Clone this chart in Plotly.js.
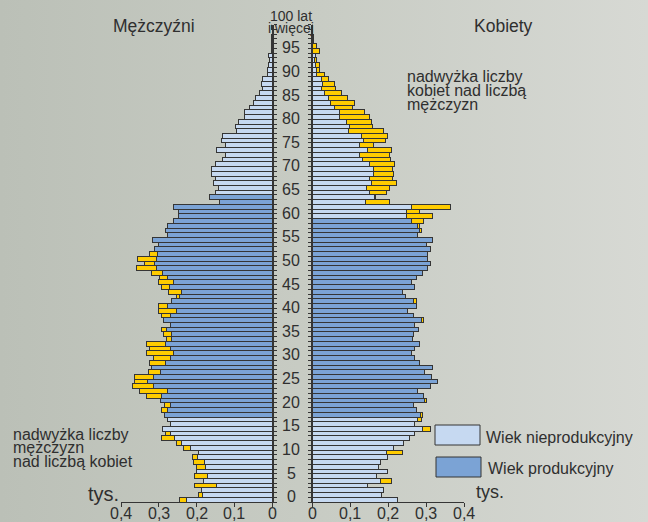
<!DOCTYPE html>
<html><head><meta charset="utf-8">
<script src="https://cdn.plot.ly/plotly-3.0.1.min.js"></script>
<style>
html,body{margin:0;padding:0;background:#c9cdc5;}
#chart{width:648px;height:522px;background:linear-gradient(to right,#bbc0b7 0%,#c8ccc4 50%,#d7d9d4 100%);}
</style></head><body><div id="chart"></div>
<script>
// ---- DATA (thousands of people, by single year of age) ----
const ages = [0,1,2,3,4,5,6,7,8,9,10,11,12,13,14,15,16,17,18,19,20,21,22,23,24,25,26,27,28,29,30,
  31,32,33,34,35,36,37,38,39,40,41,42,43,44,45,46,47,48,49,50,51,52,53,54,55,56,57,58,59,60,
  61,62,63,64,65,66,67,68,69,70,71,72,73,74,75,76,77,78,79,80,81,82,83,84,85,86,87,88,89,90,
  91,92,93,94,95,96,97,98,99,100];
const male = [0.245,0.194,0.188,0.205,0.181,0.204,0.199,0.199,0.208,0.210,
  0.196,0.234,0.252,0.292,0.281,0.291,0.270,0.277,0.285,0.294,
  0.285,0.296,0.332,0.350,0.370,0.364,0.364,0.327,0.318,0.324,
  0.314,0.333,0.325,0.332,0.279,0.288,0.292,0.270,0.288,0.292,
  0.302,0.302,0.266,0.252,0.274,0.294,0.301,0.297,0.318,0.359,
  0.339,0.355,0.325,0.311,0.301,0.317,0.277,0.282,0.277,0.261,
  0.248,0.248,0.261,0.140,0.165,0.150,0.143,0.156,0.151,0.161,
  0.161,0.151,0.132,0.124,0.147,0.124,0.135,0.131,0.095,0.098,
  0.090,0.072,0.072,0.060,0.048,0.043,0.033,0.024,0.028,0.024,
  0.013,0.012,0.010,0.006,0.009,0.002,0.001,0.001,0.001,0,0.001];
const female = [0.226,0.184,0.188,0.147,0.209,0.171,0.199,0.176,0.180,0.198,
  0.238,0.215,0.241,0.257,0.269,0.311,0.270,0.288,0.290,0.276,
  0.268,0.302,0.293,0.278,0.313,0.330,0.314,0.296,0.318,0.282,
  0.269,0.262,0.270,0.283,0.265,0.267,0.279,0.270,0.293,0.268,
  0.252,0.276,0.275,0.246,0.239,0.271,0.262,0.276,0.290,0.305,
  0.312,0.305,0.304,0.311,0.301,0.317,0.277,0.289,0.283,0.293,
  0.318,0.282,0.365,0.205,0.168,0.196,0.205,0.223,0.211,0.214,
  0.212,0.218,0.207,0.205,0.210,0.163,0.193,0.198,0.188,0.160,
  0.156,0.151,0.139,0.107,0.113,0.093,0.077,0.063,0.059,0.044,
  0.032,0.021,0.019,0.012,0.009,0.019,0.011,0.003,0.004,0.001,0.002];
const maleWorkingAge = [18, 64];
const femaleWorkingAge = [18, 59];
const ageLabels = [0,5,10,15,20,25,30,35,40,45,50,55,60,65,70,75,80,85,90,95];
const xTickVals = [0,0.1,0.2,0.3,0.4];
const xTickText = ['0','0,1','0,2','0,3','0,4'];

// ---- RENDER ----
const W=648,H=522;
const px=x=>x/W, py=y=>1-y/H;
const LIGHT='#c6d9f1', DARK='#7ba3d5', YELLOW='#ffcc00', EDGE='#353535', TXT='#2f2f2f';
const FONT='"Liberation Sans", Arial, sans-serif';

const common = male.map((m,i)=>Math.min(m,female[i]));
const maleExtra = male.map((m,i)=> m>female[i] ? m-female[i] : null);
const femaleExtra = female.map((f,i)=> f>male[i] ? f-male[i] : null);
const colFor = rng => ages.map(a => (a>=rng[0] && a<=rng[1]) ? DARK : LIGHT);

const line = {color:EDGE, width:1};
const traces = [
  {type:'bar', orientation:'h', y:ages, x:common, xaxis:'x', yaxis:'y',
   marker:{color:colFor(maleWorkingAge), line}, hoverinfo:'skip'},
  {type:'bar', orientation:'h', y:ages, x:maleExtra, xaxis:'x', yaxis:'y',
   marker:{color:YELLOW, line}, hoverinfo:'skip'},
  {type:'bar', orientation:'h', y:ages, x:common, xaxis:'x2', yaxis:'y2',
   marker:{color:colFor(femaleWorkingAge), line}, hoverinfo:'skip'},
  {type:'bar', orientation:'h', y:ages, x:femaleExtra, xaxis:'x2', yaxis:'y2',
   marker:{color:YELLOW, line}, hoverinfo:'skip'}
];

const bounds = [];
for (let k=0;k<=ages.length;k++) bounds.push(k-0.5);
const yDomain = [py(502.1), py(24.8)];
const yBase = {domain:yDomain, range:[-0.5,100.5], showgrid:false, zeroline:false,
  showticklabels:false, tickmode:'array', tickvals:bounds, ticks:'outside', ticklen:3,
  tickwidth:1, tickcolor:EDGE, showline:true, linecolor:EDGE, linewidth:1.5, fixedrange:true};
const xBase = {showgrid:false, zeroline:false, tickmode:'array', tickvals:xTickVals,
  showticklabels:false,
  ticks:'outside', ticklen:4, tickcolor:EDGE, tickwidth:1, showline:true, linecolor:EDGE, linewidth:1,
  fixedrange:true};

const ann = [];
const txt = (text,x,y,size,anchor) => ann.push({text, x:px(x), y:py(y), xref:'paper', yref:'paper',
  xanchor:anchor||'center', yanchor:'middle', showarrow:false, font:{family:FONT,size,color:TXT}});
ageLabels.forEach(a => ann.push({text:String(a), x:px(291), y:a, xref:'paper', yref:'y',
  xanchor:'center', yanchor:'middle', yshift:3, showarrow:false, font:{family:FONT,size:16,color:TXT}}));
// x tick labels placed under each axis at its own data positions
['x','x2'].forEach(ax => xTickVals.forEach((v,i) => ann.push({text:xTickText[i], x:v, xref:ax,
  y:py(513), yref:'paper', xanchor:'center', yanchor:'middle', showarrow:false,
  font:{family:FONT,size:16,color:TXT}})));
txt('100 lat',291,16,14);
txt('i więcej',291,28,14);
txt('Mężczyźni',154,26,17.5);
txt('Kobiety',503.5,26,17.5);
txt('nadwyżka liczby',405,76,16,'left');
txt('kobiet nad liczbą',405,90,16,'left');
txt('mężczyzn',405,104,16,'left');
txt('nadwyżka liczby',11,434,16,'left');
txt('mężczyzn',11,447.5,16,'left');
txt('nad liczbą kobiet',11,461.5,16,'left');
txt('tys.',103,494,20);
txt('tys.',490,492,18);
txt('Wiek nieprodukcyjny',484,437.5,16,'left');
txt('Wiek produkcyjny',486,468,16,'left');

const shapes = [
  {type:'rect', xref:'paper', yref:'paper', x0:px(435), x1:px(480), y0:py(445), y1:py(425),
   fillcolor:LIGHT, line:{color:EDGE,width:1}},
  {type:'rect', xref:'paper', yref:'paper', x0:px(436), x1:px(481), y0:py(477), y1:py(457),
   fillcolor:DARK, line:{color:EDGE,width:1}}
];

const layout = {
  width:W, height:H, margin:{l:0,r:0,t:0,b:0},
  paper_bgcolor:'rgba(0,0,0,0)', plot_bgcolor:'rgba(0,0,0,0)',
  showlegend:false, barmode:'stack', bargap:0,
  xaxis:Object.assign({}, xBase, {domain:[px(121),px(272)], range:[0.4,0], anchor:'y'}),
  xaxis2:Object.assign({}, xBase, {domain:[px(312),px(464)], range:[0,0.4], anchor:'y2'}),
  yaxis:Object.assign({}, yBase, {anchor:'x', side:'right'}),
  yaxis2:Object.assign({}, yBase, {anchor:'x2', side:'left'}),
  annotations:ann, shapes:shapes,
  font:{family:FONT,color:TXT}
};
Plotly.newPlot('chart', traces, layout, {staticPlot:true, displayModeBar:false});
</script></body></html>
